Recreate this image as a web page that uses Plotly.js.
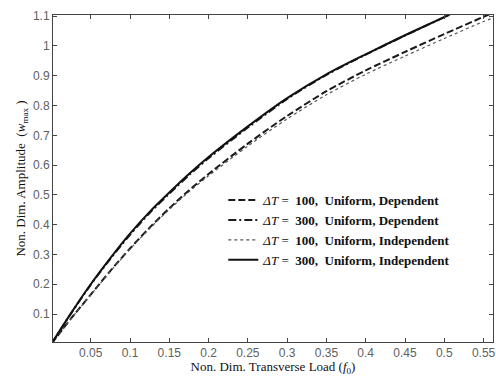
<!DOCTYPE html>
<html>
<head>
<meta charset="utf-8">
<script src="https://cdn.plot.ly/plotly-3.0.1.min.js"></script>
<style>html,body{margin:0;padding:0;background:#fff;}#chart{width:496px;height:376px;}</style>
</head>
<body>
<div id="chart"></div>
<script>
// Non-dimensional transverse load (x) values for the ΔT = 300 series
const xHi = [0, 0.025, 0.05, 0.075, 0.1, 0.125, 0.15, 0.175, 0.2, 0.25, 0.3, 0.35, 0.4, 0.45, 0.5, 0.51];
// ΔT = 300, Uniform, Independent (solid)
const y300Ind = [0, 0.103, 0.2, 0.288, 0.37, 0.443, 0.508, 0.57, 0.627, 0.73, 0.825, 0.905, 0.972, 1.036, 1.097, 1.11];
// ΔT = 300, Uniform, Dependent (dash-dot)
const y300Dep = [0, 0.102, 0.198, 0.285, 0.366, 0.439, 0.504, 0.566, 0.623, 0.726, 0.822, 0.903, 0.971, 1.035, 1.097, 1.11];

// Non-dimensional transverse load (x) values for the ΔT = 100 series
const xLo = [0, 0.025, 0.05, 0.075, 0.1, 0.125, 0.15, 0.175, 0.2, 0.25, 0.3, 0.35, 0.4, 0.45, 0.5, 0.55, 0.565];
// ΔT = 100, Uniform, Dependent (dashed)
const y100Dep = [0, 0.085, 0.165, 0.245, 0.32, 0.39, 0.455, 0.515, 0.57, 0.672, 0.765, 0.848, 0.918, 0.98, 1.04, 1.098, 1.115];
// ΔT = 100, Uniform, Independent (dotted)
const y100Ind = [0, 0.084, 0.164, 0.243, 0.318, 0.387, 0.451, 0.51, 0.564, 0.664, 0.755, 0.836, 0.905, 0.966, 1.025, 1.082, 1.097];

const names = [
  "<i>\u0394T</i>\u00a0=\u00a0 <b>100,\u00a0 Uniform, Dependent</b>",
  "<i>\u0394T</i>\u00a0=\u00a0 <b>300,\u00a0 Uniform, Dependent</b>",
  "<i>\u0394T</i>\u00a0=\u00a0 <b>100,\u00a0 Uniform, Independent</b>",
  "<i>\u0394T</i>\u00a0=\u00a0 <b>300,\u00a0 Uniform, Independent</b>"
];

const xTicks = [0.05, 0.1, 0.15, 0.2, 0.25, 0.3, 0.35, 0.4, 0.45, 0.5, 0.55];
const yTicks = [0.1, 0.2, 0.3, 0.4, 0.5, 0.6, 0.7, 0.8, 0.9, 1, 1.1];

const traces = [
  {x: xLo, y: y100Dep, name: names[0], mode: 'lines', line: {color: '#1a1a1a', width: 2, dash: '7px,3px', shape: 'spline', smoothing: 0.8}},
  {x: xHi, y: y300Dep, name: names[1], mode: 'lines', line: {color: '#1a1a1a', width: 2, dash: '8px,3px,2px,3px', shape: 'spline', smoothing: 0.8}},
  {x: xLo, y: y100Ind, name: names[2], mode: 'lines', line: {color: '#555', width: 1.2, dash: 'dot', shape: 'spline', smoothing: 0.8}},
  {x: xHi, y: y300Ind, name: names[3], mode: 'lines', line: {color: '#111', width: 2, shape: 'spline', smoothing: 0.8}}
];

const tickFont = {family: 'Liberation Sans, Arial, sans-serif', size: 12, color: '#606060'};
const titleFont = {family: 'Liberation Serif, Times New Roman, serif', size: 13, color: '#111'};

const layout = {
  width: 496, height: 376,
  margin: {l: 53, r: 3, t: 15, b: 34},
  paper_bgcolor: '#fff', plot_bgcolor: '#fff',
  showlegend: true,
  legend: {
    x: 0.387, y: 0.48, xanchor: 'left', yanchor: 'top',
    bgcolor: 'rgba(0,0,0,0)', borderwidth: 0,
    font: {family: 'Liberation Serif, Times New Roman, serif', size: 13, color: '#111'},
    tracegroupgap: 0
  },
  xaxis: {
    range: [0.002, 0.562], tickvals: xTicks, ticktext: xTicks.map(String),
    ticks: 'inside', ticklen: 4, tickcolor: '#444', mirror: 'ticks',
    showline: true, linecolor: '#444', linewidth: 1, showgrid: false, zeroline: false,
    tickfont: tickFont, automargin: false,
    title: {text: 'Non. Dim. Transverse Load (<i>f</i><sub>0</sub>)', font: titleFont, standoff: 4}
  },
  yaxis: {
    range: [0.006, 1.104], tickvals: yTicks, ticktext: yTicks.map(String),
    ticks: 'inside', ticklen: 4, tickcolor: '#444', mirror: 'ticks',
    showline: true, linecolor: '#444', linewidth: 1, showgrid: false, zeroline: false,
    tickfont: tickFont, automargin: false,
    title: {text: 'Non. Dim. Amplitude\u00a0 (<i>w</i><sub>max</sub> )', font: titleFont, standoff: 4}
  }
};

Plotly.newPlot('chart', traces, layout, {staticPlot: true, displayModeBar: false});
</script>
</body>
</html>
